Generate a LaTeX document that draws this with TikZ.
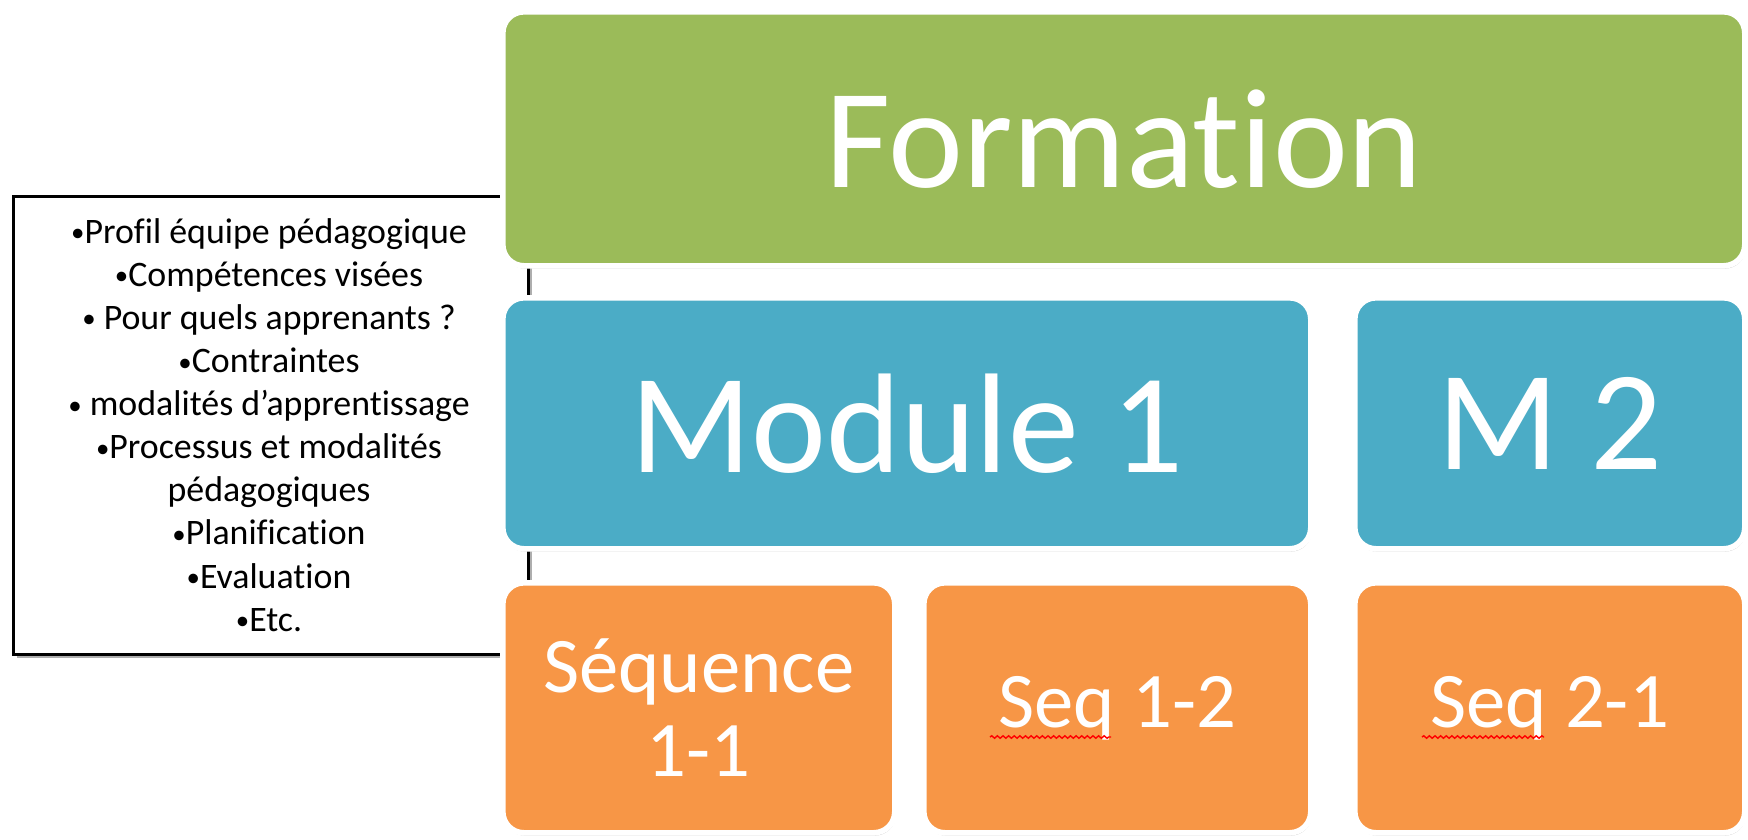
\documentclass[tikz,border=0pt]{standalone}
\usepackage{fontspec}
\setmainfont{Carlito}[Ligatures=NoCommon]
\usetikzlibrary{positioning, shadows, decorations.pathmorphing}
\definecolor{vertForm}{HTML}{9BBB59}
\definecolor{bleuMod}{HTML}{4BACC6}
\definecolor{orangeSeq}{HTML}{F79646}
\newcommand{\puce}{\raisebox{0.1ex}{\scalebox{0.75}{•}}}

\begin{document}
\begin{tikzpicture}[x=1cm, y=1cm,
    bloc/.style={draw=white, line width=1.6pt, rounded corners=6pt, anchor=north west,
      inner sep=0pt, text=white, align=center,
      drop shadow={shadow xshift=0.3pt, shadow yshift=-0.8pt, opacity=0.35, fill=black!60}},
    grand/.style={font=\fontsize{40.4}{44}\selectfont},
    petit/.style={font=\fontsize{22.4}{23.9}\selectfont},
    squiggle/.style={red, line width=0.4pt, decorate,
      decoration={snake, amplitude=0.35pt, segment length=1.6pt}}]

    \useasboundingbox (0,0) rectangle (17.48,-8.39);

    % cadre de gauche
    \node[draw=black, line width=0.9pt, fill=white, anchor=north west, inner sep=0pt,
      minimum width=5.15cm, minimum height=4.58cm,
      drop shadow={shadow xshift=1pt, shadow yshift=-1pt, opacity=0.45, fill=black!70}]
      (cadre) at (0.12,-1.95) {};
    \node[align=center, font=\fontsize{10.2}{12.25}\selectfont] (liste) at (2.69,-4.25)
      {\puce Profil équipe pédagogique\\
       \puce Compétences visées\\
       \puce{} Pour quels apprenants ?\\
       \puce Contraintes\\
       \puce{} modalités d’apprentissage\\
       \puce Processus et modalités\\
       pédagogiques\\
       \puce Planification\\
       \puce Evaluation\\
       \puce Etc.};

    % blocs
    \node[bloc, grand, fill=vertForm, minimum width=12.42cm, minimum height=2.54cm]
      (form) at (5.00,-0.09) {Formation};
    \node[bloc, grand, fill=bleuMod, minimum width=8.08cm, minimum height=2.51cm]
      (mod1) at (5.00,-2.95) {Module 1};
    \node[bloc, grand, fill=bleuMod, minimum width=3.90cm, minimum height=2.51cm]
      (mod2) at (13.52,-2.95) {M 2};
    \node[bloc, petit, fill=orangeSeq, minimum width=3.92cm, minimum height=2.50cm]
      (seqa) at (5.00,-5.80) {Séquence\\1-1};
    \node[bloc, petit, fill=orangeSeq, minimum width=3.87cm, minimum height=2.50cm]
      (seqb) at (9.21,-5.80) {Seq 1-2};
    \node[bloc, petit, fill=orangeSeq, minimum width=3.90cm, minimum height=2.50cm]
      (seqc) at (13.52,-5.80) {Seq 2-1};

    % soulignement
    \draw[squiggle] (9.90,-7.37) -- (11.11,-7.37);
    \draw[squiggle] (14.22,-7.37) -- (15.44,-7.37);
\end{tikzpicture}
\end{document}
